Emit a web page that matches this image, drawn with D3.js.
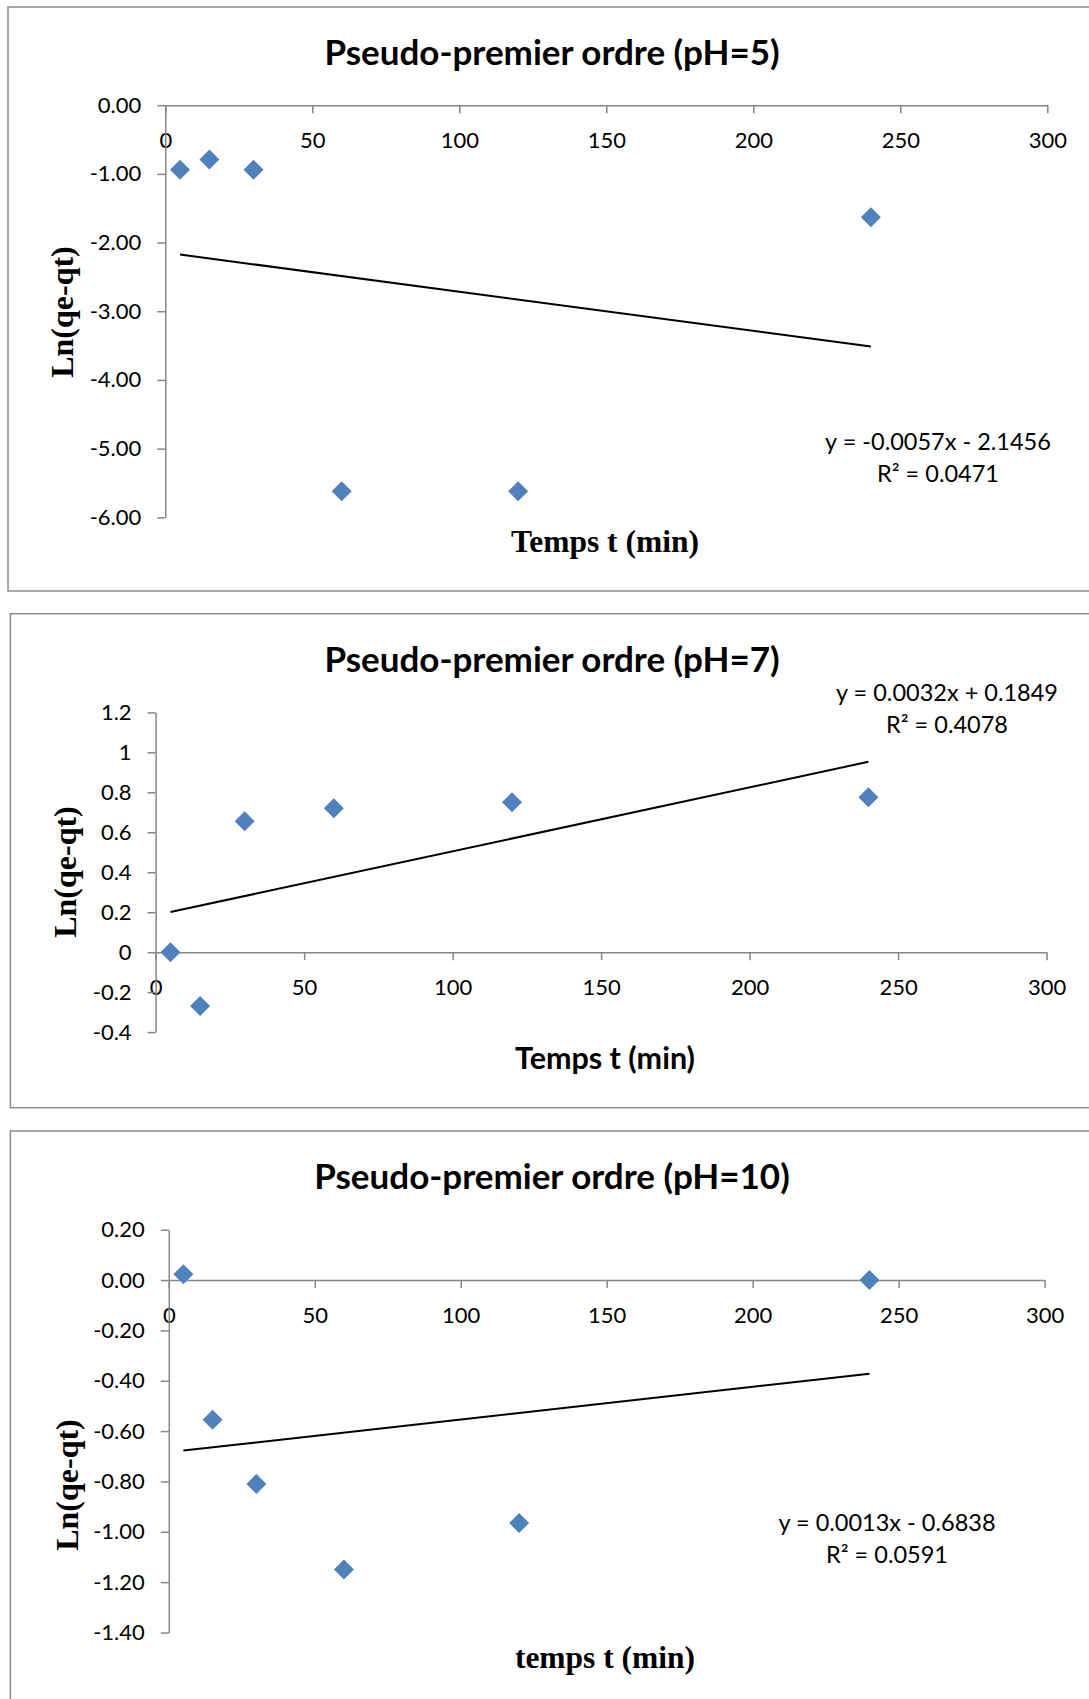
<!DOCTYPE html>
<html>
<head>
<meta charset="utf-8">
<script src="https://cdn.jsdelivr.net/npm/d3@7"></script>
<style>
  body { margin: 0; background: #fff; }
  svg { display: block; }
</style>
</head>
<body>
<svg width="1089" height="1699"></svg>
<script>
// temps (min)
var temps = [5, 15, 30, 60, 120, 240]

// Ln(qe-qt) pour chaque pH
var lnPH5 = [-0.94, -0.79, -0.94, -5.62, -5.62, -1.63]
var lnPH7 = [0.0, -0.27, 0.655, 0.72, 0.75, 0.775]
var lnPH10 = [0.023, -0.555, -0.81, -1.15, -0.965, 0.0]

// droites de tendance (pente, ordonnee) et R2
var pentes = [-0.0057, 0.0032, 0.0013]
var ordonnees = [-2.1456, 0.1849, -0.6838]
var r2 = ["0.0471", "0.4078", "0.0591"]

var titres = ["Pseudo-premier ordre (pH=5)", "Pseudo-premier ordre (pH=7)", "Pseudo-premier ordre (pH=10)"]
var xTitres = ["Temps t (min)", "Temps t (min)", "temps t (min)"]
var yTitre = "Ln(qe-qt)"

var xTicks = [0, 50, 100, 150, 200, 250, 300]
var yTicks5 = [0, -1, -2, -3, -4, -5, -6]
var yTicks7 = [1.2, 1, 0.8, 0.6, 0.4, 0.2, 0, -0.2, -0.4]
var yTicks10 = [0.2, 0, -0.2, -0.4, -0.6, -0.8, -1.0, -1.2, -1.4]

var svg = d3.select('svg')
var sans = "Lato, 'Open Sans', sans-serif"
var serif = "'Liberation Serif', 'DejaVu Serif', serif"

// format a la Excel, avec un tiret simple
function fmt2(d){ return d.toFixed(2) }
function fmtG(d){ return String(+d.toFixed(1)) }

var charts = [
  { box: [8, 7, 1100, 584], plot: [165.3, 1047.3, 105.2, 517.3], dom: [-6, 0], ticks: yTicks5,
    fmt: fmt2, ys: lnPH5, titleY: 51, xtY: 541, xtFont: serif, ylX: 62, ylY: 312,
    eqX: 938, eqY: 441 },
  { box: [10.4, 613.7, 1100, 494], plot: [155.6, 1046.6, 712.4, 1032.1], dom: [-0.4, 1.2], ticks: yTicks7,
    fmt: fmtG, ys: lnPH7, titleY: 658, xtY: 1057, xtFont: sans, ylX: 65, ylY: 872,
    eqX: 947, eqY: 692 },
  { box: [10.4, 1131, 1100, 600], plot: [168.8, 1044.6, 1229.7, 1632.5], dom: [-1.4, 0.2], ticks: yTicks10,
    fmt: fmt2, ys: lnPH10, titleY: 1175, xtY: 1657, xtFont: serif, ylX: 67, ylY: 1485,
    eqX: 887, eqY: 1522 }
]

charts.forEach(function(c, i){
  var g = svg.append('g')

  // cadre
  g.append('rect')
    .attr('x', c.box[0]).attr('y', c.box[1])
    .attr('width', c.box[2]).attr('height', c.box[3])
    .attr('fill', 'none').attr('stroke', '#8c8c8c').attr('stroke-width', 1.5)

  var x = d3.scaleLinear().domain([0, 300]).range([c.plot[0], c.plot[1]])
  var y = d3.scaleLinear().domain(c.dom).range([c.plot[3], c.plot[2]])

  // axe x a y = 0
  var ax = g.append('g')
    .attr('transform', 'translate(0,' + y(0) + ')')
    .call(d3.axisBottom(x).tickValues(xTicks).tickSize(8).tickPadding(19).tickSizeOuter(0))
  var ay = g.append('g')
    .attr('transform', 'translate(' + x(0) + ',0)')
    .call(d3.axisLeft(y).tickValues(c.ticks).tickFormat(c.fmt).tickSize(8).tickPadding(16).tickSizeOuter(0))

  ;[ax, ay].forEach(function(a){
    a.select('.domain').attr('stroke', '#868686').attr('stroke-width', 1.5)
    a.selectAll('line').attr('stroke', '#868686').attr('stroke-width', 1.5)
    a.selectAll('text').attr('font-family', sans).attr('font-size', 22).attr('fill', '#000')
  })

  // droite de tendance
  var a = pentes[i], b = ordonnees[i]
  g.append('line')
    .attr('x1', x(temps[0])).attr('y1', y(a * temps[0] + b))
    .attr('x2', x(temps[temps.length - 1])).attr('y2', y(a * temps[temps.length - 1] + b))
    .attr('stroke', '#000').attr('stroke-width', 2)

  // points
  g.selectAll('path.pt')
    .data(temps)
    .enter()
    .append('path')
    .attr('class', 'pt')
    .attr('d', d3.symbol().type(d3.symbolSquare).size(200))
    .attr('transform', function(d, j){
      return 'translate(' + x(d) + ',' + y(c.ys[j]) + ') rotate(45)'
    })
    .attr('fill', '#4F81BD')

  // titres
  g.append('text')
    .attr('x', 552).attr('y', c.titleY)
    .attr('text-anchor', 'middle').attr('dominant-baseline', 'central')
    .attr('font-family', sans).attr('font-weight', 'bold').attr('font-size', 35)
    .text(titres[i])

  g.append('text')
    .attr('x', 605).attr('y', c.xtY)
    .attr('text-anchor', 'middle').attr('dominant-baseline', 'central')
    .attr('font-family', c.xtFont).attr('font-weight', 'bold').attr('font-size', c.xtFont == sans ? 30.5 : 31.5)
    .text(xTitres[i])

  g.append('text')
    .attr('transform', 'translate(' + c.ylX + ',' + c.ylY + ') rotate(-90)')
    .attr('text-anchor', 'middle').attr('dominant-baseline', 'central')
    .attr('font-family', serif).attr('font-weight', 'bold').attr('font-size', 32)
    .text(yTitre)

  // equation
  var signe = b < 0 ? ' - ' : ' + '
  var eq = 'y = ' + a.toFixed(4) + 'x' + signe + Math.abs(b).toFixed(4)
  g.append('text')
    .attr('x', c.eqX).attr('y', c.eqY)
    .attr('text-anchor', 'middle').attr('dominant-baseline', 'central')
    .attr('font-family', sans).attr('font-size', 23.5)
    .text(eq)
  g.append('text')
    .attr('x', c.eqX).attr('y', c.eqY + 32)
    .attr('text-anchor', 'middle').attr('dominant-baseline', 'central')
    .attr('font-family', sans).attr('font-size', 23.5)
    .text('R² = ' + r2[i])
})
</script>
</body>
</html>
